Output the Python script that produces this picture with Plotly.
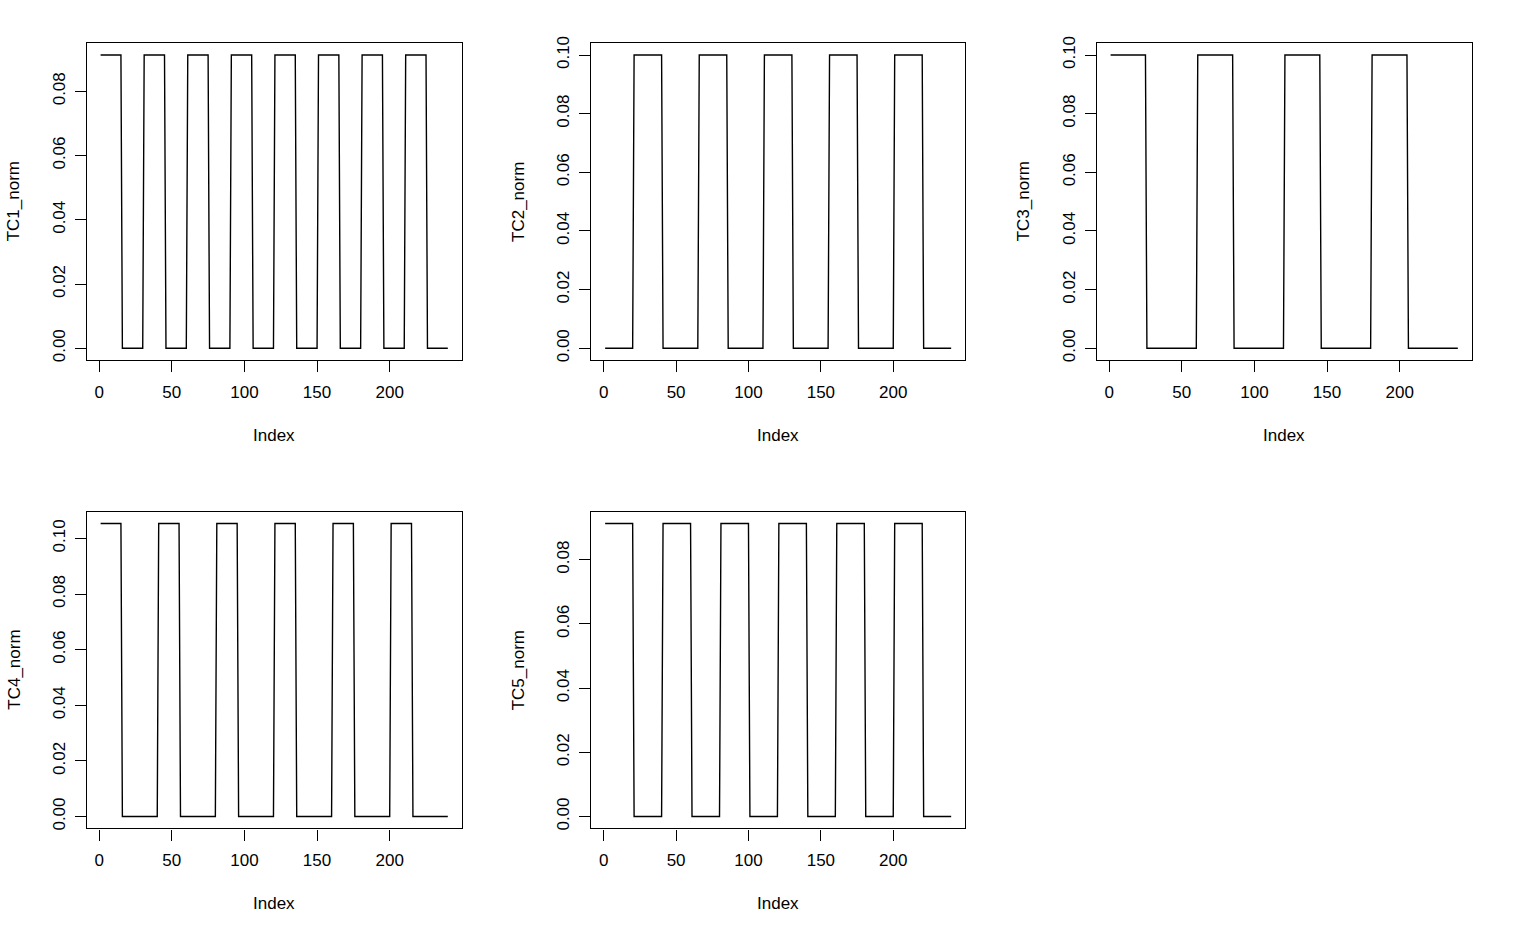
import plotly.graph_objects as go

# ---------------- data ----------------
n_points = 240
index = list(range(1, n_points + 1))

series_names = ["TC1_norm", "TC2_norm", "TC3_norm", "TC4_norm", "TC5_norm"]

TC1_level = 0.0913
TC1_on_start = [1, 31, 61, 91, 121, 151, 181, 211]
TC1_on_end = [15, 45, 75, 105, 135, 165, 195, 225]

TC2_level = 0.1
TC2_on_start = [21, 66, 111, 156, 201]
TC2_on_end = [40, 85, 130, 175, 220]

TC3_level = 0.1
TC3_on_start = [1, 61, 121, 181]
TC3_on_end = [25, 85, 145, 205]

TC4_level = 0.1054
TC4_on_start = [1, 41, 81, 121, 161, 201]
TC4_on_end = [15, 55, 95, 135, 175, 215]

TC5_level = 0.0913
TC5_on_start = [1, 41, 81, 121, 161, 201]
TC5_on_end = [20, 60, 100, 140, 180, 220]

x_tickvals = [0, 50, 100, 150, 200]
TC1_yticks = [0.00, 0.02, 0.04, 0.06, 0.08]
TC2_yticks = [0.00, 0.02, 0.04, 0.06, 0.08, 0.10]
TC3_yticks = [0.00, 0.02, 0.04, 0.06, 0.08, 0.10]
TC4_yticks = [0.00, 0.02, 0.04, 0.06, 0.08, 0.10]
TC5_yticks = [0.00, 0.02, 0.04, 0.06, 0.08]
x_title = "Index"


def expand(level, starts, ends):
    vals = [0.0] * n_points
    for s, e in zip(starts, ends):
        for i in range(s, e + 1):
            vals[i - 1] = level
    return vals


series = [
    expand(TC1_level, TC1_on_start, TC1_on_end),
    expand(TC2_level, TC2_on_start, TC2_on_end),
    expand(TC3_level, TC3_on_start, TC3_on_end),
    expand(TC4_level, TC4_on_start, TC4_on_end),
    expand(TC5_level, TC5_on_start, TC5_on_end),
]
yticks = [TC1_yticks, TC2_yticks, TC3_yticks, TC4_yticks, TC5_yticks]

# ---------------- layout geometry ----------------
W, H = 1515, 936
col_px = [(86.7, 461.7), (591.3, 965.0), (1096.7, 1471.7)]
row_px = [(43.3, 360.0), (511.7, 828.3)]
positions = [(0, 0), (0, 1), (0, 2), (1, 0), (1, 1)]

FONT = "Liberation Sans, Arial, Helvetica, sans-serif"
FS = 17
fig = go.Figure()
layout = dict(
    width=W, height=H, margin=dict(l=0, r=0, t=0, b=0, pad=0),
    paper_bgcolor="white", plot_bgcolor="white", showlegend=False,
    font=dict(family=FONT, size=FS, color="black"),
)
annotations = []

x_min, x_max = 1, n_points
x_pad = 0.04 * (x_max - x_min)

for k, (name, y, yt) in enumerate(zip(series_names, series, yticks)):
    r, c = positions[k]
    xs = "" if k == 0 else str(k + 1)
    fig.add_trace(go.Scatter(
        x=index, y=y, mode="lines",
        line=dict(color="black", width=1.4),
        xaxis="x" + xs, yaxis="y" + xs, hoverinfo="skip",
    ))
    x0, x1 = col_px[c]
    top, bot = row_px[r]
    ymax = max(y)
    ymin = min(y)
    ypad = 0.04 * (ymax - ymin)
    common = dict(
        showgrid=False, zeroline=False, showline=True, linecolor="black",
        linewidth=1.4, mirror=True, ticks="outside", ticklen=11,
        tickwidth=1.4, tickcolor="black", automargin=False,
        tickfont=dict(family=FONT, size=FS, color="black"),
    )
    layout["xaxis" + xs] = dict(
        domain=[x0 / W, x1 / W], anchor="y" + xs,
        range=[x_min - x_pad, x_max + x_pad],
        tickmode="array", tickvals=x_tickvals,
        ticktext=[str(v) for v in x_tickvals], ticklabelstandoff=5, **common,
    )
    layout["yaxis" + xs] = dict(
        domain=[1 - bot / H, 1 - top / H], anchor="x" + xs,
        range=[ymin - ypad, ymax + ypad],
        tickmode="array", tickvals=yt,
        ticktext=[f"{v:.2f}" for v in yt], tickangle=-90,
        ticklabelstandoff=3, **common,
    )
    annotations.append(dict(
        text=x_title, xref="x" + xs + " domain", yref="y" + xs + " domain",
        x=0.5, y=0, yshift=-75, xanchor="center", yanchor="middle",
        showarrow=False, font=dict(family=FONT, size=FS, color="black"),
    ))
    annotations.append(dict(
        text=name, xref="x" + xs + " domain", yref="y" + xs + " domain",
        x=0, y=0.5, xshift=-73, xanchor="center", yanchor="middle",
        textangle=-90, showarrow=False,
        font=dict(family=FONT, size=FS, color="black"),
    ))

layout["annotations"] = annotations
fig.update_layout(**layout)
fig.write_html("out.html")
